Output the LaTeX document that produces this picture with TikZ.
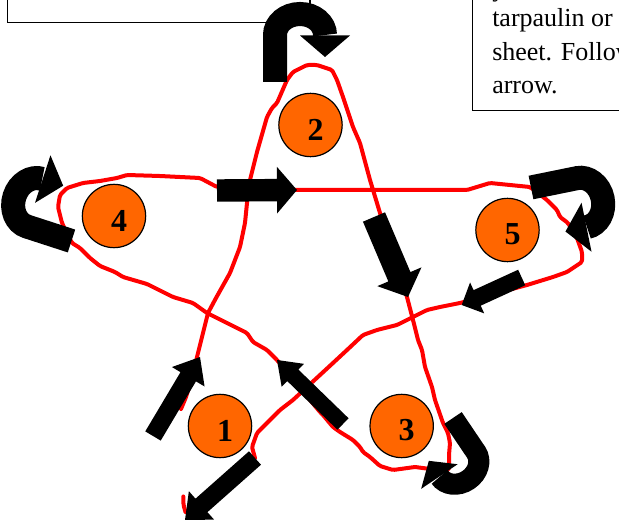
\documentclass[tikz,border=0pt]{standalone}
\usepackage{fontspec}
\setmainfont{Liberation Serif}
\usetikzlibrary{calc}
\definecolor{dotorange}{RGB}{255,102,0}
\definecolor{pathred}{RGB}{255,0,0}
% straight block arrow: tail, tip, shaft half width, head half width, head length
\newcommand\blockarrow[5]{%
  \coordinate (hb) at ($(#2)!#5!(#1)$);
  \fill[black] ($(#1)!#3!90:(#2)$) -- ($(hb)!#3!90:(#2)$) -- ($(hb)!#4!90:(#2)$) -- (#2)
    -- ($(hb)!#4!-90:(#2)$) -- ($(hb)!#3!-90:(#2)$) -- ($(#1)!#3!-90:(#2)$) -- cycle;}
\tikzset{
  redline/.style={draw=pathred, line width=3pt, line join=round, line cap=round, rounded corners=1.2pt},
  numdot/.style={circle, draw=black, line width=0.9pt, fill=dotorange, minimum size=47.5pt, inner sep=0pt},
  numlabel/.style={font=\fontsize{24}{28}\selectfont\bfseries, inner sep=0pt},
  infobox/.style={draw=black, line width=1.1pt, fill=white},
  boxtext/.style={font=\fontsize{19.5}{25}\selectfont, anchor=base west, inner sep=0pt},
  pics/uturn/.style={code={
    \draw[black, line width=#1] (0,0) -- (0,-47) arc[start angle=180, end angle=360, x radius=25, y radius=21];
    \fill[black] (25,-46.5) -- (75,-46.5) -- (50,-25) -- cycle;}},
}
\begin{document}
\begin{tikzpicture}[x=0.75pt, y=-0.75pt]
\useasboundingbox (0,0) rectangle (619,524);
\clip (0,0) rectangle (619,524);
% boxes
\draw[infobox] (7.3,-30) rectangle (310,22.7);
\draw[infobox] (472.7,-30) rectangle (650,110.5);
\node[boxtext] (t0) at (492,-3) {your};
\node[boxtext] (t1) at (492,27) {tarpaulin or};
\node[boxtext] (t2) at (492,60.5) {sheet. Follow};
\node[boxtext] (t3) at (492,94) {arrow.};
% red star path
\draw[redline] (183.3,496.5) -- (183.5,505) -- (185.5,512);
\draw[redline] (181,409) -- (186,397) -- (191,381) -- (197,357) -- (202,337) -- (208,313)
 -- (216,298) -- (230,273) -- (240,247) -- (245,223) -- (247,203) -- (250,180) -- (257,152)
 -- (267,117) -- (272,108) -- (277,103) -- (287,80) -- (293,72) -- (307,65) -- (317,65)
 -- (332,70) -- (337,80) -- (343,97) -- (353,127) -- (360,143) -- (370,180) -- (380,213)
 -- (407,297) -- (413,320) -- (418,340) -- (422,350) -- (425,367) -- (432,387) -- (435,400)
 -- (443,423) -- (448,433) -- (450,443) -- (449,455) -- (449,470) -- (430,469) -- (415,467)
 -- (393,470) -- (380,466) -- (370,457) -- (363,452) -- (360,447) -- (353,440) -- (340,432)
 -- (333,427) -- (323,415) -- (320,412) -- (277,360) -- (267,350) -- (253,342) -- (247,333)
 -- (227,323) -- (207,313) -- (193,303) -- (173,297) -- (163,292) -- (147,284) -- (123,277)
 -- (115,272) -- (100,266) -- (90,258) -- (80,248) -- (72,243) -- (62,223) -- (58,207)
 -- (60,195) -- (67,188) -- (83,183) -- (100,181) -- (117,178) -- (127,175) -- (160,176)
 -- (200,178) -- (217,187) -- (297,190) -- (320,190) -- (370,190) -- (467,190) -- (490,183)
 -- (530,187) -- (547,200) -- (552,205) -- (557,210) -- (560,217) -- (568,223) -- (577,238)
 -- (582,252) -- (582,262) -- (573,268) -- (567,272) -- (553,277) -- (527,285) -- (460,303)
 -- (440,307) -- (427,310) -- (413,317) -- (397,325) -- (377,330) -- (363,335) -- (347,350)
 -- (333,363) -- (320,375) -- (307,387) -- (293,400) -- (280,410) -- (267,423) -- (257,433)
 -- (252,447) -- (255,458);
% numbered dots
\node[numdot] (d1) at (220,426) {};
\node[numdot] (d2) at (310.5,125) {};
\node[numdot] (d3) at (401.7,426) {};
\node[numdot] (d4) at (114,216) {};
\node[numdot] (d5) at (507.5,230) {};
\node[numlabel] (n1) at (225,430.5) {1};
\node[numlabel] (n2) at (315.5,129.5) {2};
\node[numlabel] (n3) at (406.7,430.5) {3};
\node[numlabel] (n4) at (119,220.5) {4};
\node[numlabel] (n5) at (512.5,234.5) {5};
% straight arrows
\coordinate (a1s) at (153,436);   \coordinate (a1e) at (200,357);
\coordinate (a45s) at (217,190.5); \coordinate (a45e) at (297,190);
\coordinate (a23s) at (374,217);  \coordinate (a23e) at (408,297);
\coordinate (a5s) at (521.7,277.5); \coordinate (a5e) at (461.7,305);
\coordinate (a34s) at (343,424);  \coordinate (a34e) at (277,360);
\coordinate (afs) at (255,458);   \coordinate (afe) at (185,520);
\blockarrow{a1s}{a1e}{6.75pt}{14.25pt}{17.25pt}
\blockarrow{a45s}{a45e}{8.4pt}{17.5pt}{15pt}
\blockarrow{a23s}{a23e}{9pt}{18pt}{16.5pt}
\blockarrow{a5s}{a5e}{6.4pt}{12.75pt}{12.75pt}
\blockarrow{a34s}{a34e}{6pt}{12pt}{16.5pt}
\blockarrow{afs}{afe}{6.75pt}{14.25pt}{16.5pt}
% U-turn arrows
\begin{scope}[shift={(275,82)}]
  \pic[transform shape] (u2) {uturn=18pt};
\end{scope}
\begin{scope}[shift={(71.5,241)}, rotate=72]
  \pic[transform shape] (u4) {uturn=18pt};
\end{scope}
\begin{scope}[shift={(531,187.5)}, rotate=-78.5]
  \pic[transform shape] (u5) {uturn=18pt};
\end{scope}
\begin{scope}[shift={(453,418)}, rotate=-146, scale=0.88]
  \pic[transform shape] (u3) {uturn=15.8pt};
\end{scope}
\end{tikzpicture}
\end{document}
